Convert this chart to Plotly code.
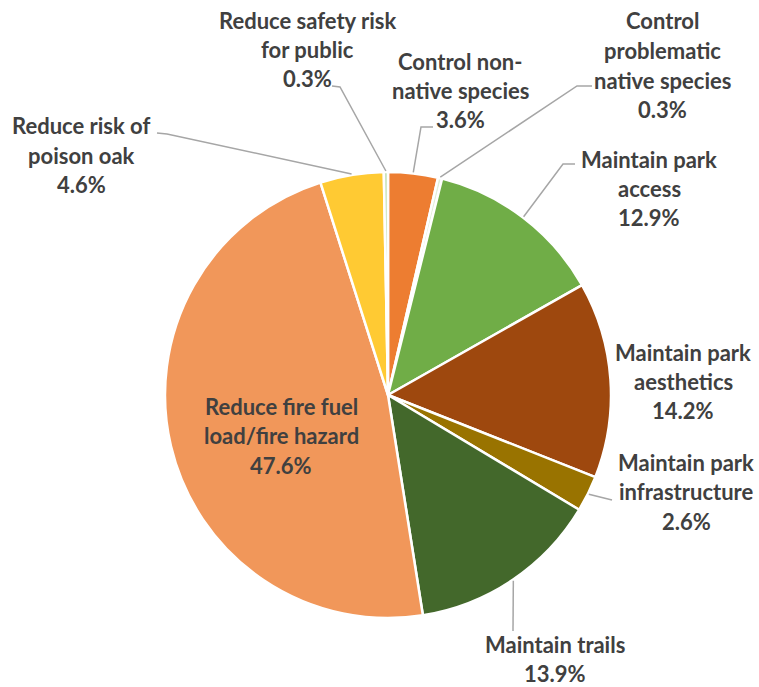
import math
import plotly.graph_objects as go

# Share of responses by management objective (percent)
labels = [
    "Control non-native species",
    "Control problematic native species",
    "Maintain park access",
    "Maintain park aesthetics",
    "Maintain park infrastructure",
    "Maintain trails",
    "Reduce fire fuel load/fire hazard",
    "Reduce risk of poison oak",
    "Reduce safety risk for public",
]
values = [3.6, 0.3, 12.9, 14.2, 2.6, 13.9, 47.6, 4.6, 0.3]

# Wrapped label text, one entry per slice
label_text = [
    "Control non-<br>native species",
    "Control<br>problematic<br>native species",
    "Maintain park<br>access",
    "Maintain park<br>aesthetics",
    "Maintain park<br>infrastructure",
    "Maintain trails",
    "Reduce fire fuel<br>load/fire hazard",
    "Reduce risk of<br>poison oak",
    "Reduce safety risk<br>for public",
]

colors = ["#ED7D31", "#E2EFD9", "#70AD47", "#9E480E", "#997300",
          "#43682B", "#F1975A", "#FFCA33", "#C5E0B4"]

# Layout (pixels): canvas, pie centre and radius
W, H = 759, 687
CX, CY, R = 388, 395, 223
LINE_GAP = 29.5
TEXT_COLOR = "#404040"
LEADER_COLOR = "#A6A6A6"

# Label block placement: centre x and first-line y (pixels)
label_pos = [
    (460, 61), (662, 21), (649, 159), (683, 352), (686, 462),
    (555, 644), (281, 406), (81, 126), (307, 20),
]
# Leader line waypoints after leaving the slice edge (None = no leader)
leader_pts = [
    [(421, 127), (433, 127)],
    [(577, 86), (592, 86)],
    [(563, 164), (575, 164)],
    None,
    [(612, 500)],
    [(513, 631)],
    None,
    [(167, 134), (157, 133)],
    [(340, 87), (332, 86)],
]


def px(x):
    return x / W


def py(y):
    return 1 - y / H


fig = go.Figure(
    go.Pie(
        labels=labels,
        values=values,
        sort=False,
        direction="clockwise",
        rotation=0,
        textinfo="none",
        hoverinfo="label+percent",
        marker=dict(colors=colors, line=dict(color="white", width=2.5)),
        domain=dict(x=[px(CX - R), px(CX + R)], y=[py(CY + R), py(CY - R)]),
        showlegend=False,
    )
)

total = sum(values)
annotations = []
shapes = []
cum = 0.0
for i, v in enumerate(values):
    mid = (cum + v / 2) / total * 2 * math.pi
    cum += v
    # slice edge point at the middle angle (clockwise from 12 o'clock)
    ex = CX + (R + 1) * math.sin(mid)
    ey = CY - (R + 1) * math.cos(mid)

    lines = label_text[i].split("<br>") + [f"{v:.1f}%"]
    lx, ly = label_pos[i]
    for k, line in enumerate(lines):
        annotations.append(dict(
            x=px(lx), y=py(ly + k * LINE_GAP), xref="paper", yref="paper",
            text=f"<b>{line}</b>", showarrow=False,
            xanchor="center", yanchor="middle",
            font=dict(family="Lato", size=22, color=TEXT_COLOR),
        ))

    pts = leader_pts[i]
    if pts:
        path_pts = [(ex, ey)] + pts
        d = "M " + " L ".join(f"{px(x):.5f},{py(y):.5f}" for x, y in path_pts)
        shapes.append(dict(type="path", path=d, xref="paper", yref="paper",
                           line=dict(color=LEADER_COLOR, width=1.5)))

fig.update_layout(
    width=W, height=H,
    margin=dict(l=0, r=0, t=0, b=0),
    paper_bgcolor="white",
    plot_bgcolor="white",
    annotations=annotations,
    shapes=shapes,
)

fig.write_html("out.html")
